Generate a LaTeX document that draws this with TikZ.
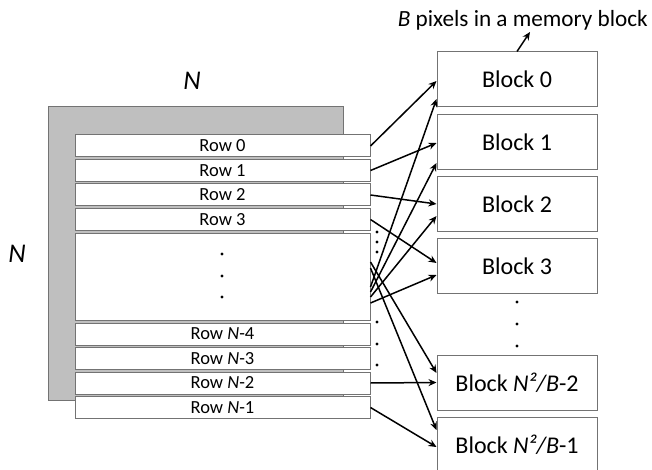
\documentclass[tikz,border=0pt]{standalone}
\usepackage{fontspec}
\setmainfont{Carlito}
\usetikzlibrary{arrows.meta}
\begin{document}
\begin{tikzpicture}[x=1pt,y=-1pt,
  rowbox/.style={draw=black!55,line width=1pt,fill=white,minimum width=295pt,minimum height=22pt,inner sep=0pt,font=\fontsize{18.5}{18.5}\selectfont},
  blockbox/.style={draw=black!55,line width=1pt,fill=white,minimum width=160pt,minimum height=55pt,inner sep=0pt,font=\fontsize{24}{24}\selectfont},
  conn/.style={line width=1.5pt,-{Stealth[length=8pt,width=7pt]}},
  dotm/.style={circle,fill=black,inner sep=0pt,minimum size=3.2pt},
  biglabel/.style={font=\fontsize{27}{27}\selectfont\itshape}]
\useasboundingbox (0,0) rectangle (652,470);
% gray matrix
\node[draw=black!55,line width=1pt,fill=black!25,minimum width=295pt,minimum height=293pt,inner sep=0pt] (mat) at (195.5,253.5) {};
\node[biglabel] (ntop) at (192,81) {N};
\node[biglabel] (nleft) at (17,254) {N};
% rows
\node[rowbox] (r0) at (222.5,146) {Row 0};
\node[rowbox] (r1) at (222.5,170.5) {Row 1};
\node[rowbox] (r2) at (222.5,195) {Row 2};
\node[rowbox] (r3) at (222.5,219.5) {Row 3};
\node[rowbox,minimum height=87pt] (rb) at (222.5,276.5) {};
\node[rowbox] (rn4) at (222.5,334) {Row \textit{N}-4};
\node[rowbox] (rn3) at (222.5,358.5) {Row \textit{N}-3};
\node[rowbox] (rn2) at (222.5,383) {Row \textit{N}-2};
\node[rowbox] (rn1) at (222.5,407.5) {Row \textit{N}-1};
% dots inside big row box
\node[dotm] (d1) at (222,254) {};
\node[dotm] (d2) at (222,276) {};
\node[dotm] (d3) at (222,297) {};
% dots right of rows
\node[dotm] (e1) at (377,232) {};
\node[dotm] (e2) at (377,242) {};
\node[dotm] (e3) at (377,252) {};
\node[dotm] (e4) at (377,322) {};
\node[dotm] (e5) at (377,344) {};
\node[dotm] (e6) at (377,365) {};
% blocks
\node[blockbox] (b0) at (517,79.5) {Block 0};
\node[blockbox] (b1) at (517,142) {Block 1};
\node[blockbox] (b2) at (517,204) {Block 2};
\node[blockbox] (b3) at (517,266) {Block 3};
\node[blockbox] (bm2) at (517,382.5) {Block \textit{N²/B}-2};
\node[blockbox] (bm1) at (517,444.5) {Block \textit{N²/B}-1};
% dots between blocks
\node[dotm] (f1) at (517,302) {};
\node[dotm] (f2) at (517,324) {};
\node[dotm] (f3) at (517,346) {};
% top label
\node[font=\fontsize{23.2}{23.2}\selectfont,anchor=east,inner sep=0pt] (blabel) at (648,20) {\textit{B} pixels in a memory block};
\coordinate (btip) at (530,32);
\draw[conn] (b0.north) -- (btip);
% arrows from rows
\draw[conn] (r0.east) -- ([yshift=-1.5pt]b0.west);
\draw[conn] (r1.east) -- ([yshift=-1pt]b1.west);
\draw[conn] (r2.east) -- (b2.west);
\draw[conn] (r3.east) -- ([yshift=3pt]b3.west);
\draw[conn] (rn2.east) -- (bm2.west);
\draw[conn] (rn1.east) -- ([yshift=-2.5pt]bm1.west);
% arrows from the big box
\draw[conn] ([yshift=-10.5pt]rb.east) -- ([yshift=-19.5pt]b0.west);
\draw[conn] ([yshift=-15.5pt]rb.east) -- ([yshift=-21pt]b1.west);
\draw[conn] ([yshift=-20.5pt]rb.east) -- ([yshift=-12pt]b2.west);
\draw[conn] ([yshift=-26.5pt]rb.east) -- ([yshift=-9pt]b3.west);
\draw[conn] ([yshift=14.5pt]rb.east) -- ([yshift=9.5pt]bm2.west);
\draw[conn] ([yshift=8.5pt]rb.east) -- ([yshift=14.5pt]bm1.west);
\end{tikzpicture}
\end{document}
